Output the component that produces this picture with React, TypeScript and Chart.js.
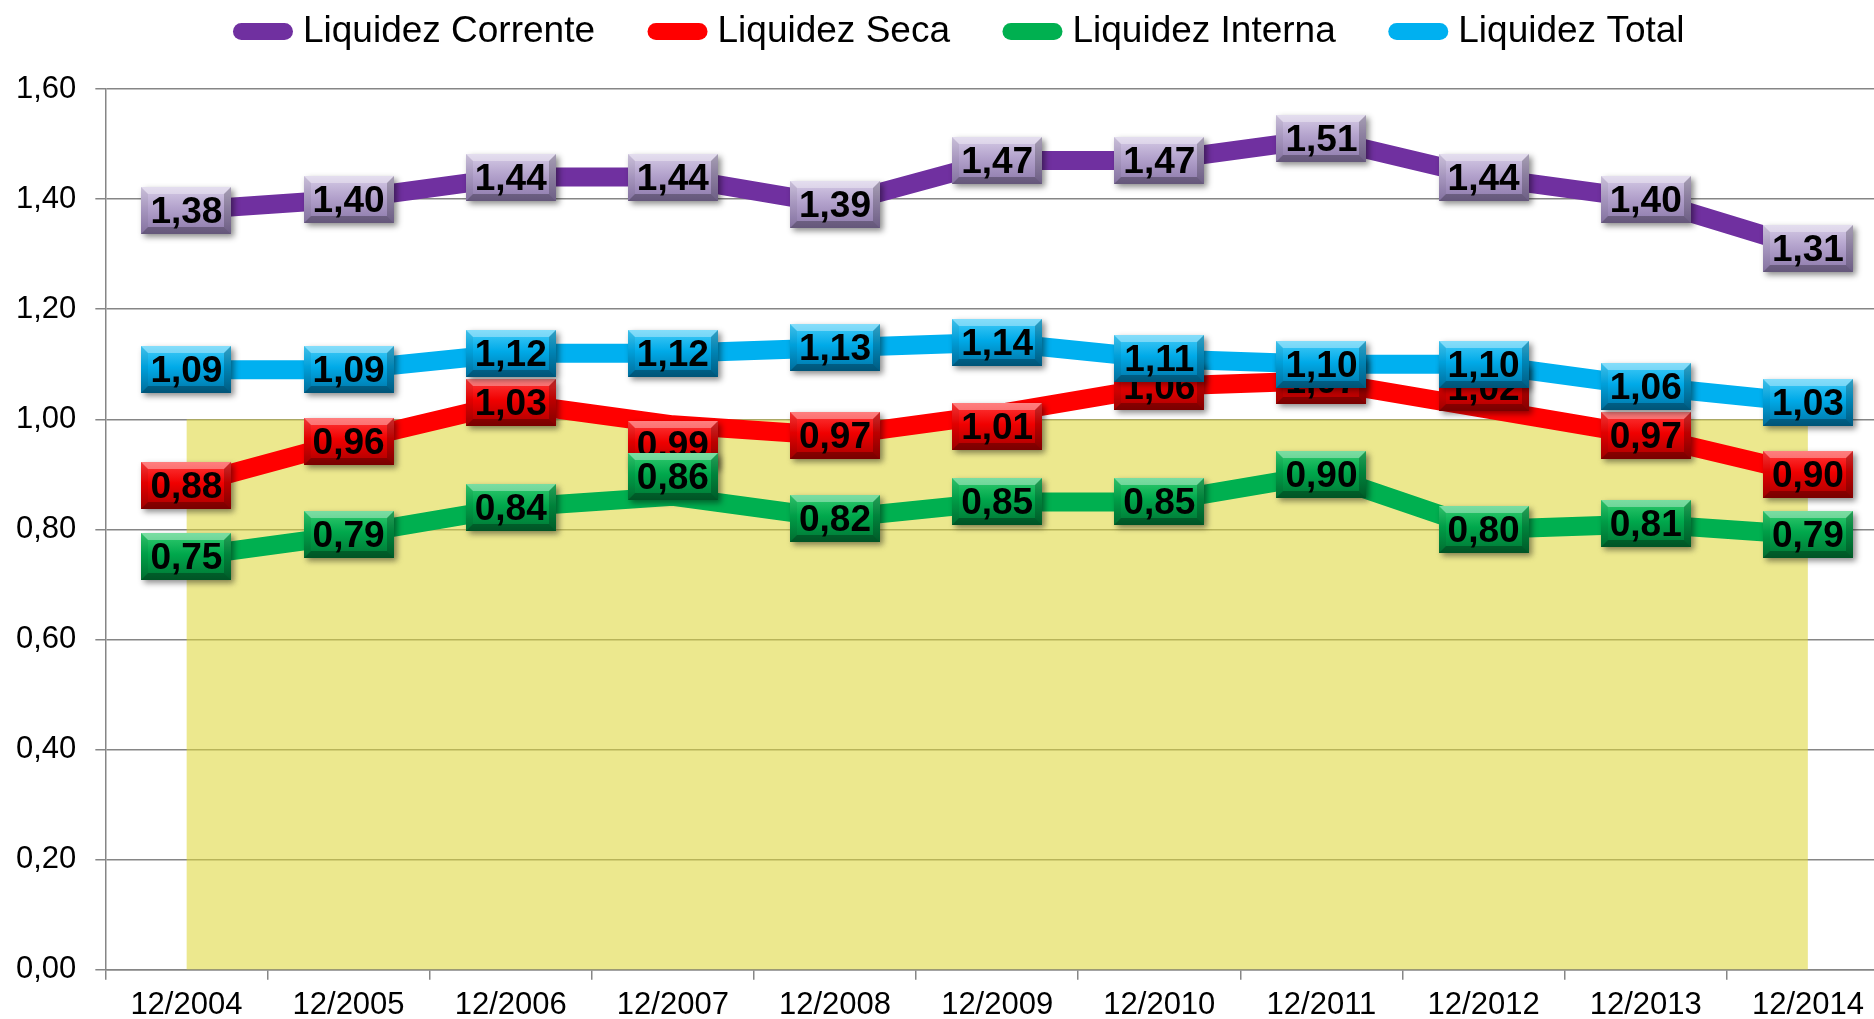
import React, { useEffect, useRef } from "react";
import { Chart, registerables } from "chart.js";

Chart.register(...registerables);

const categories = ["12/2004", "12/2005", "12/2006", "12/2007", "12/2008", "12/2009", "12/2010", "12/2011", "12/2012", "12/2013", "12/2014"];
const liquidezCorrente = [1.38, 1.40, 1.44, 1.44, 1.39, 1.47, 1.47, 1.51, 1.44, 1.40, 1.31];
const liquidezSeca = [0.88, 0.96, 1.03, 0.99, 0.97, 1.01, 1.06, 1.07, 1.02, 0.97, 0.90];
const liquidezInterna = [0.75, 0.79, 0.84, 0.86, 0.82, 0.85, 0.85, 0.90, 0.80, 0.81, 0.79];
const liquidezTotal = [1.09, 1.09, 1.12, 1.12, 1.13, 1.14, 1.11, 1.10, 1.10, 1.06, 1.03];
const referencia = [1.0, 1.0, 1.0, 1.0, 1.0, 1.0, 1.0, 1.0, 1.0, 1.0, 1.0];
const seriesNames = ["Liquidez Corrente", "Liquidez Seca", "Liquidez Interna", "Liquidez Total"];
const yMin = 0;
const yMax = 1.6;
const yStep = 0.2;

// label vertical nudges (px) for a few overlapping data labels, as in the original
const shiftSeca = [0, 0, 0, 20, 0, 13, 0, 0, -21, 0, 0];
const shiftInterna = [0, 0, 0, -20, 0, 0, 0, 0, 0, 0, 0];

const FONT = "'Liberation Sans', Arial, sans-serif";
const GRID = "#868686";

type BoxStyle = { base: string; light: string; dark: string };

const fmt = (v: number) => v.toFixed(2).replace(".", ",");

function drawBox(ctx: CanvasRenderingContext2D, cx: number, cy: number, text: string, s: BoxStyle) {
  const w = 90;
  const h = 47;
  const x = Math.round(cx - w / 2);
  const y = Math.round(cy - h / 2);
  const b = 7;
  ctx.save();
  ctx.shadowColor = "rgba(0,0,0,0.45)";
  ctx.shadowBlur = 6;
  ctx.shadowOffsetX = 3;
  ctx.shadowOffsetY = 3;
  ctx.fillStyle = s.base;
  ctx.fillRect(x, y, w, h);
  ctx.restore();

  ctx.save();
  const g = ctx.createLinearGradient(0, y, 0, y + h);
  g.addColorStop(0, s.light);
  g.addColorStop(0.45, s.base);
  g.addColorStop(1, s.dark);
  ctx.fillStyle = g;
  ctx.fillRect(x, y, w, h);

  const poly = (pts: number[][], color: string) => {
    ctx.beginPath();
    ctx.moveTo(pts[0][0], pts[0][1]);
    for (let i = 1; i < pts.length; i++) ctx.lineTo(pts[i][0], pts[i][1]);
    ctx.closePath();
    ctx.fillStyle = color;
    ctx.fill();
  };
  poly([[x, y], [x + w, y], [x + w - b, y + b], [x + b, y + b]], "rgba(255,255,255,0.35)");
  poly([[x, y + h], [x + w, y + h], [x + w - b, y + h - b], [x + b, y + h - b]], "rgba(0,0,0,0.28)");
  poly([[x, y], [x + b, y + b], [x + b, y + h - b], [x, y + h]], "rgba(0,0,0,0.06)");
  poly([[x + w, y], [x + w - b, y + b], [x + w - b, y + h - b], [x + w, y + h]], "rgba(0,0,0,0.22)");

  ctx.fillStyle = "#000";
  ctx.font = `bold 37px ${FONT}`;
  ctx.textAlign = "center";
  ctx.textBaseline = "middle";
  ctx.fillText(text, cx, y + h / 2 + 2);
  ctx.restore();
}

const boxLabels = {
  id: "boxLabels",
  afterDatasetsDraw(chart: any) {
    const ctx = chart.ctx as CanvasRenderingContext2D;
    chart.data.datasets.forEach((ds: any, di: number) => {
      if (!ds.labelStyle) return;
      const meta = chart.getDatasetMeta(di);
      meta.data.forEach((pt: any, i: number) => {
        const dy = ds.labelShift ? ds.labelShift[i] || 0 : 0;
        drawBox(ctx, pt.x, pt.y + dy, fmt(ds.data[i]), ds.labelStyle);
      });
    });
  },
};

const legendSpacer = {
  id: "legendSpacer",
  beforeInit(chart: any) {
    const legend = chart.legend;
    if (!legend) return;
    const orig = legend.fit;
    legend.fit = function () {
      orig.call(this);
      this.height += 29;
      if (this.lineWidths && this.lineWidths.length) this.lineWidths[0] -= 40;
    };
  },
};

export default function App() {
  const ref = useRef<HTMLCanvasElement | null>(null);

  useEffect(() => {
    if (!ref.current) return;
    const lineDs = (label: string, data: number[], color: string, style: BoxStyle, shift?: number[]) => ({
      label,
      data,
      borderColor: color,
      backgroundColor: color,
      borderWidth: 19,
      borderCapStyle: "round",
      borderJoinStyle: "round",
      pointRadius: 0,
      pointHoverRadius: 0,
      tension: 0,
      fill: false,
      order: 0,
      labelStyle: style,
      labelShift: shift,
    });

    const chart = new Chart(ref.current, {
      type: "line",
      data: {
        labels: categories,
        datasets: [
          lineDs(seriesNames[0], liquidezCorrente, "#7030A0", { base: "#B3A2CC", light: "#D6CCE6", dark: "#8C79AA" }),
          lineDs(seriesNames[1], liquidezSeca, "#FF0000", { base: "#F00000", light: "#FF3A3A", dark: "#A80000" }, shiftSeca),
          lineDs(seriesNames[2], liquidezInterna, "#00B050", { base: "#00A84C", light: "#33CC70", dark: "#007534" }, shiftInterna),
          lineDs(seriesNames[3], liquidezTotal, "#00B0F0", { base: "#00AAE8", light: "#45CCF8", dark: "#0075A6" }),
          {
            label: "",
            data: referencia,
            borderWidth: 0,
            borderColor: "rgba(0,0,0,0)",
            backgroundColor: "rgba(222,214,56,0.57)",
            pointRadius: 0,
            pointHoverRadius: 0,
            fill: "origin",
            tension: 0,
            order: 10,
          },
        ] as any,
      },
      options: {
        responsive: false,
        animation: false,
        devicePixelRatio: 1,
        layout: { padding: { top: -48, left: -3, right: 1, bottom: -12 } },
        plugins: {
          tooltip: { enabled: false },
          legend: {
            display: true,
            position: "top",
            labels: {
              usePointStyle: true,
              pointStyle: "line",
              pointStyleWidth: 43,
              padding: 61,
              color: "#000",
              font: { size: 37, family: FONT },
              generateLabels: (c: any) =>
                (Chart.defaults.plugins.legend.labels.generateLabels as any)(c)
                  .filter((l: any) => l.datasetIndex < 4)
                  .map((l: any) => ({ ...l, lineWidth: 17, lineCap: "round", pointStyle: "line" })),
            },
          },
        },
        scales: {
          x: {
            type: "category",
            offset: true,
            grid: { offset: true, drawOnChartArea: false, drawTicks: true, tickLength: 10, color: GRID, lineWidth: 1.5 },
            border: { display: true, color: GRID, width: 1.5 },
            ticks: { color: "#000", font: { size: 31, family: FONT }, padding: 7, maxRotation: 0, autoSkip: false },
          },
          y: {
            min: yMin,
            max: yMax,
            grid: { color: GRID, lineWidth: 1.5, drawTicks: true, tickLength: 10 },
            border: { display: true, color: GRID, width: 1.5 },
            ticks: {
              stepSize: yStep,
              color: "#000",
              padding: 19,
              font: { size: 31, family: FONT },
              callback: (v: any) => fmt(Number(v)),
            },
          },
        },
      } as any,
      plugins: [legendSpacer, boxLabels] as any,
    });
    return () => chart.destroy();
  }, []);

  return (
    <div style={{ position: "fixed", left: 0, top: 0, width: 1874, height: 1019, overflow: "hidden", background: "#fff" }}>
      <canvas ref={ref} width={1890} height={1019} style={{ display: "block", width: 1890, height: 1019 }} />
    </div>
  );
}
